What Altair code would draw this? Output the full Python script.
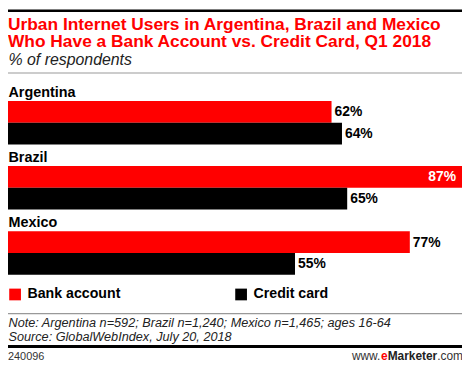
import altair as alt
import pandas as pd

# ---- data ----
countries = ["Argentina", "Brazil", "Mexico"]
series = ["Bank account", "Credit card"]
bank_account = [62, 87, 77]
credit_card = [64, 65, 55]
series_colors = ["#ff0000", "#000000"]

title_lines = [
    "Urban Internet Users in Argentina, Brazil and Mexico",
    "Who Have a Bank Account vs. Credit Card, Q1 2018",
]
subtitle_text = "% of respondents"
note_lines = [
    "Note: Argentina n=592; Brazil n=1,240; Mexico n=1,465; ages 16-64",
    "Source: GlobalWebIndex, July 20, 2018",
]
chart_id = "240096"
brand_parts = ["www.", "e", "Marketer", ".com"]

rows = []
for c, b, k in zip(countries, bank_account, credit_card):
    rows.append({"country": c, "series": series[0], "value": b})
    rows.append({"country": c, "series": series[1], "value": k})
df = pd.DataFrame(rows)
df["label"] = df["value"].astype(str) + "%"
vmax = max(bank_account + credit_card)

W, H = 458, 358
FONT = "Liberation Sans"

y_scale = alt.Scale(domain=countries, range=[70.2, 267.6], paddingInner=0, paddingOuter=0)
yoff_scale = alt.Scale(domain=[" "] + series, paddingInner=0, paddingOuter=0)
x_scale = alt.Scale(domain=[0, vmax], range=[0, W], nice=False, zero=True)

base = alt.Chart(df)

bars = base.mark_bar(strokeWidth=0).encode(
    x=alt.X("value:Q", scale=x_scale, axis=None),
    y=alt.Y("country:N", scale=y_scale, axis=None),
    yOffset=alt.YOffset("series:N", scale=yoff_scale),
    color=alt.Color(
        "series:N",
        scale=alt.Scale(domain=series, range=series_colors),
        legend=alt.Legend(
            title=None,
            orient="none",
            legendX=0,
            legendY=280,
            direction="horizontal",
            symbolType="square",
            symbolSize=140,
            symbolStrokeWidth=0,
            symbolOpacity=1,
            labelFont=FONT,
            labelFontSize=14.3,
            labelFontWeight="bold",
            labelColor="#000000",
            labelOffset=5.4,
            columnPadding=114,
            padding=0,
        ),
    ),
)

lbl_common = dict(font=FONT, fontSize=14, fontWeight="bold", baseline="middle")
enc_lbl = dict(
    x=alt.X("value:Q", scale=x_scale, axis=None),
    y=alt.Y("country:N", scale=y_scale, axis=None),
    yOffset=alt.YOffset("series:N", scale=yoff_scale),
    text="label:N",
)
labels_out = base.transform_filter("datum.value < 85").mark_text(
    align="left", dx=3, dy=0.5, color="#000000", **lbl_common
).encode(**enc_lbl)
labels_in = base.transform_filter("datum.value >= 85").mark_text(
    align="right", dx=-6, dy=0.5, color="#ffffff", **lbl_common
).encode(**enc_lbl)

country_labels = alt.Chart(pd.DataFrame({"country": countries})).mark_text(
    align="left", baseline="alphabetic", dy=17.8, font=FONT, fontSize=14.5,
    fontWeight="bold", color="#000000",
).encode(
    x=alt.value(0.5),
    y=alt.Y("country:N", scale=y_scale, axis=None, bandPosition=0),
    text="country:N",
)


def text_layer(text, x, y, size, weight="normal", style="normal", color="#000000",
               align="left"):
    props = dict(align=align, baseline="alphabetic", font=FONT, fontSize=size,
                 fontWeight=weight, fontStyle=style, color=color)
    return alt.Chart(alt.Data(values=[{"t": text}])).mark_text(**props).encode(
        x=alt.value(x), y=alt.value(y), text="t:N"
    )


def rule_layer(y, color, width):
    return alt.Chart(alt.Data(values=[{}])).mark_rule(color=color, strokeWidth=width).encode(
        x=alt.value(0), x2=alt.value(W), y=alt.value(y)
    )


title = [
    text_layer(title_lines[0], 0, 20.2, 17.5, weight="bold", color="#ff0000"),
    text_layer(title_lines[1], 0, 37.9, 17.5, weight="bold", color="#ff0000"),
]
subtitle = text_layer(subtitle_text, 0.5, 56, 16, style="italic", color="#222222")
note = [
    text_layer(note_lines[0], 0.5, 320.7, 12.8, style="italic", color="#222222"),
    text_layer(note_lines[1], 0.5, 334, 12.8, style="italic", color="#222222"),
]
footer_id = text_layer(chart_id, 0, 353.7, 11, color="#333333")

bx = 347
brand = [
    text_layer(brand_parts[0], bx, 354, 12, color="#333333"),
    text_layer(brand_parts[1], bx + 29.3, 354, 12, weight="bold", color="#ff0000"),
    text_layer(brand_parts[2], bx + 36.0, 354, 12, weight="bold", color="#222222"),
    text_layer(brand_parts[3], bx + 86.0, 354, 12, color="#333333"),
]

chart = alt.layer(
    rule_layer(1.2, "#000000", 2.4),
    *title,
    subtitle,
    rule_layer(64, "#999999", 1.2),
    bars,
    labels_out,
    labels_in,
    country_labels,
    rule_layer(306.7, "#999999", 1.2),
    *note,
    rule_layer(340, "#000000", 3),
    footer_id,
    *brand,
).properties(
    width=W,
    height=H,
    autosize=alt.AutoSizeParams(type="none"),
    padding=0,
).configure_view(stroke=None)

chart.save("out.html", embed_options={"renderer": "svg", "actions": False})
